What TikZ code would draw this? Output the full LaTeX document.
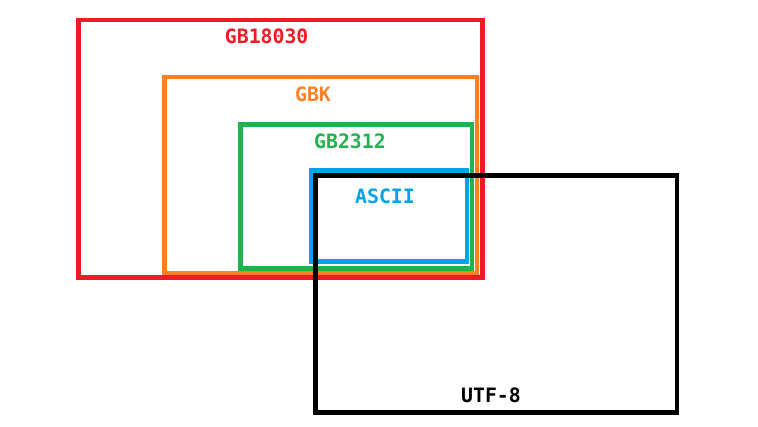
\documentclass[tikz,border=0pt]{standalone}
\usepackage{fontspec}
\setmonofont{DejaVu Sans Mono}
\definecolor{gbred}{HTML}{ED1C24}
\definecolor{gborange}{HTML}{FF7F27}
\definecolor{gbgreen}{HTML}{22B14C}
\definecolor{gbblue}{HTML}{00A2E8}

\begin{document}
\begin{tikzpicture}[x=1pt, y=-1pt,
  box/.style={line width=4.5pt},
  lbl/.style={font=\ttfamily\bfseries\fontsize{19.8}{20}\selectfont}]
\useasboundingbox (0,0) rectangle (758,426);
\foreach \c/\a/\b/\p/\q in {gbred/78.5/20/482.5/277.5, gborange/164.5/77/477/273,
  gbgreen/240.5/124.5/472/268.5, gbblue/311.5/170.5/467/261.5, black/315.5/175.5/677/412.5}{
\draw[box,\c] (\a,\b) rectangle (\p,\q);
}
\node[lbl,gbred] (gb18030) at (266.7,36.7) {GB18030};
\node[lbl,gborange] (gbk) at (313,93.8) {GBK};
\node[lbl,gbgreen] (gb2312) at (350,140.8) {GB2312};
\node[lbl,gbblue] (ascii) at (385,196) {ASCII};
\node[lbl,black] (utf8) at (491,395.5) {UTF-8};
\end{tikzpicture}
\end{document}
